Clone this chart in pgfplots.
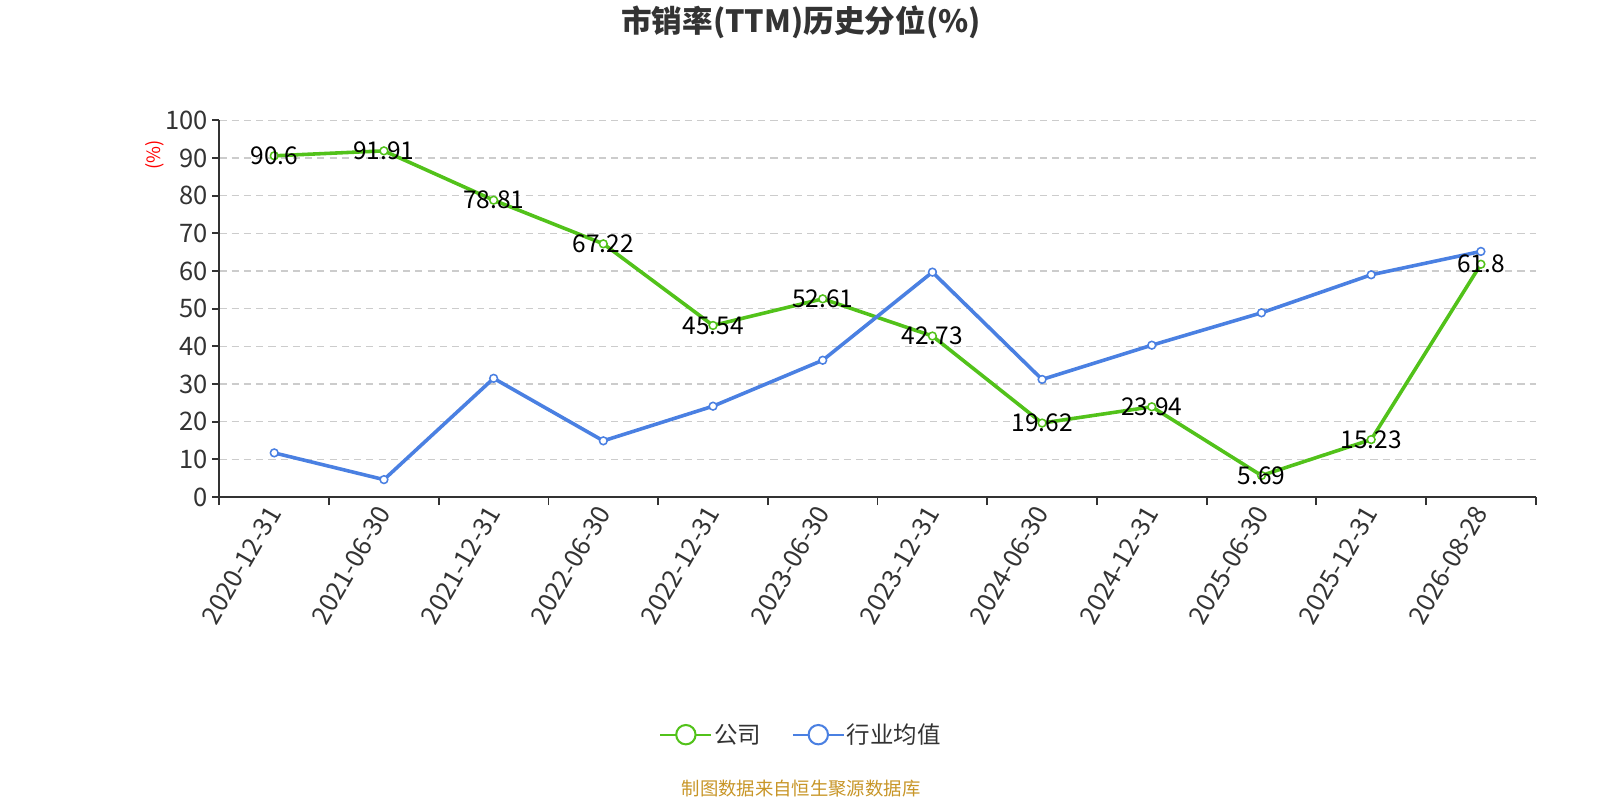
\documentclass[border=0pt]{standalone}
\usepackage{pgfplots}
\pgfplotsset{compat=1.18}
\usepackage{fontspec}
\setmainfont{Noto Sans CJK SC}
\definecolor{cgreen}{RGB}{82,194,26}
\definecolor{cblue}{RGB}{74,128,226}
\definecolor{ctext}{RGB}{51,51,51}
\definecolor{cgrid}{RGB}{204,204,204}
\definecolor{csrc}{RGB}{200,150,40}
\begin{document}
\begin{tikzpicture}[x=1bp,y=1bp]
\path[fill=white] (0,0) rectangle (1568,784);
\useasboundingbox (0,0) rectangle (1568,784);
\begin{axis}[
  at={(215bp,297bp)}, anchor=south west,
  scale only axis, width=1290bp, height=369bp,
  xmin=-0.5, xmax=11.5, ymin=0, ymax=100,
  axis x line*=bottom, axis y line*=left,
  axis line style={ctext, line width=1.8bp, -},
  xtick={0,1,...,11},
  xticklabels={2020-12-31,2021-06-30,2021-12-31,2022-06-30,2022-12-31,2023-06-30,2023-12-31,2024-06-30,2024-12-31,2025-06-30,2025-12-31,2026-08-28},
  minor xtick={-0.5,0.5,1.5,2.5,3.5,4.5,5.5,6.5,7.5,8.5,9.5,10.5,11.5},
  major x tick style={draw=none},
  minor x tick style={ctext, line width=1.8bp},
  y tick style={ctext, line width=1.8bp},
  tick align=outside, major tick length=7bp, minor tick length=8bp,
  ytick={0,10,...,100},
  ymajorgrids, major y grid style={cgrid, line width=1.5bp, dash pattern=on 7bp off 5bp},
  /pgf/number format/assume math mode=true,
  yticklabel style={font=\fontsize{25bp}{25bp}\selectfont, text=ctext, xshift=-1bp},
  xticklabel style={font=\fontsize{25bp}{25bp}\selectfont, text=ctext, rotate=60, anchor=east, yshift=-2bp},
  legend style={at={(0.4419,-0.6314)}, anchor=center, draw=none, fill=none,
    legend columns=2, font=\fontsize{23bp}{23bp}\selectfont, text=ctext,
    /tikz/every even column/.append style={column sep=28bp}},
  legend image code/.code={
    \draw[#1, line width=1.8bp] (0bp,0bp) -- (50bp,0bp);
    \draw[#1, fill=white, line width=2bp] (25bp,0bp) circle (9.5bp);},
]
\addplot[cgreen, line width=3.5bp, mark=*, mark size=3.8bp,
  mark options={fill=white, draw=cgreen, line width=1.5bp},
  point meta=explicit symbolic, nodes near coords,
  nodes near coords style={anchor=center, font=\fontsize{24bp}{24bp}\selectfont, text=black}]
  coordinates {
  (0,90.6)[90.6] (1,91.91)[91.91] (2,78.81)[78.81] (3,67.22)[67.22]
  (4,45.54)[45.54] (5,52.61)[52.61] (6,42.73)[42.73] (7,19.62)[19.62]
  (8,23.94)[23.94] (9,5.69)[5.69] (10,15.23)[15.23] (11,61.8)[61.8]
  };
\addlegendentry{公司}
\addplot[cblue, line width=3.5bp, mark=*, mark size=3.8bp,
  mark options={fill=white, draw=cblue, line width=1.5bp}]
  coordinates {
  (0,11.7) (1,4.6) (2,31.5) (3,14.9) (4,24.1) (5,36.3)
  (6,59.7) (7,31.2) (8,40.3) (9,48.9) (10,59.0) (11,65.2)
  };
\addlegendentry{行业均值}
\end{axis}
\node[font=\bfseries\fontsize{30bp}{30bp}\selectfont, text=ctext] at (785,762) {市销率(TTM)历史分位(\%)};
\node[font=\fontsize{18bp}{18bp}\selectfont, text=red, rotate=90] at (152,632) {(\%)};
\node[font=\fontsize{18bp}{18bp}\selectfont, text=csrc] at (785,11) {制图数据来自恒生聚源数据库};
\end{tikzpicture}
\end{document}
